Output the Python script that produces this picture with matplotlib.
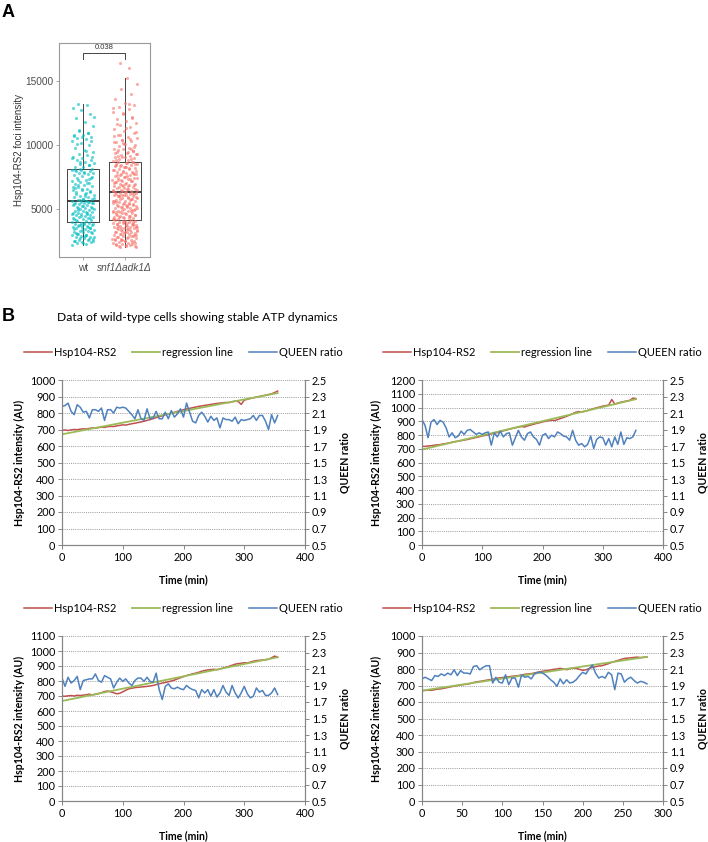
import numpy as np
import matplotlib
matplotlib.use("Agg")
import matplotlib.pyplot as plt

# ---------------- panel A: foci intensity per cell ----------------
groups = ["wt", "snf1Δadk1Δ"]
wt_foci = [2200, 2280, 2350, 2400, 2420, 2500, 2560, 2600, 2680, 2750, 2790, 2850,
           2900, 2960, 3000, 3050, 3120, 3180, 3200, 3260, 3300, 3380, 3420, 3480,
           3500, 3560, 3620, 3650, 3700, 3760, 3800, 3850, 3880, 3940, 3990,
           4050, 4080, 4150, 4200, 4230, 4300, 4350, 4380, 4450, 4500, 4540, 4600,
           4650, 4700, 4720, 4800, 4850, 4880, 4950, 5000, 5020, 5100, 5150, 5180,
           5250, 5300, 5330, 5400, 5450, 5480, 5500, 5540, 5570, 5600, 5620,
           5680, 5750, 5800, 5900, 5950, 6050, 6100, 6200, 6300, 6350, 6450, 6500,
           6600, 6700, 6800, 6850, 6950, 7050, 7100, 7200, 7300, 7400, 7450, 7550,
           7650, 7700, 7780, 7850, 7900, 7950, 8000, 8050, 8080, 6250, 6900,
           8150, 8250, 8300, 8450, 8500, 8600, 8700, 8800, 8850, 8950, 9050, 9200,
           9300, 9450, 9600, 9800, 10000, 10150, 10300, 10450, 10550, 10650, 10750,
           10800, 10950, 11200, 11500, 11800, 12100, 12400, 12700, 12900, 13100,
           13200, 9100,
           2330, 2470, 2620, 2720, 2830, 2980, 3080, 3230, 3350, 3450, 3600, 3720,
           3830, 3920, 4120, 4270, 4420, 4580, 4760, 4920, 5060, 5220, 5380, 5520,
           5720, 5850, 6000, 6150, 6400, 6550, 6750, 7000, 7250, 7500, 7820, 8020,
           8400, 8650, 9000, 9500, 10050, 10350, 10600, 10700, 10900, 11100, 2520,
           2880, 3150, 3530, 3780, 4330, 4620, 5050, 5450, 5820, 6650, 7350, 8150,
           12200]
mut_foci = [2000, 2040, 2110, 2150, 2230, 2260, 2320, 2380, 2400, 2470, 2510, 2560,
            2600, 2670, 2720, 2760, 2800, 2870, 2910, 2950, 3020, 3060, 3100, 3170,
            3200, 3240, 3310, 3330, 3400, 3460, 3500, 3540, 3590, 3620, 3680, 3720,
            3760, 3800, 3850, 3880, 3920, 3960, 4000, 4030, 4080, 4120, 4150, 3350,
            3560, 3900,
            4200, 4260, 4300, 4350, 4420, 4460, 4500, 4580, 4620, 4680, 4720, 4770,
            4820, 4880, 4930, 4980, 5040, 5080, 5130, 5200, 5240, 5300, 5350, 5420,
            5460, 5500, 5560, 5620, 5660, 5720, 5780, 5830, 5880, 5920, 5980, 6040,
            6080, 6130, 6180, 6230, 6270, 6300, 4550, 4900, 5150, 5600, 5850, 6020,
            6200, 6290,
            6330, 6400, 6450, 6520, 6580, 6630, 6700, 6760, 6800, 6870, 6920, 6980,
            7030, 7100, 7150, 7220, 7260, 7330, 7400, 7450, 7510, 7580, 7620, 7700,
            7750, 7800, 7870, 7920, 7980, 8030, 8100, 8150, 8220, 8280, 8330, 8400,
            8460, 8520, 8580, 8650, 8700, 6650, 7050, 7350, 7650, 7950, 8250, 8550,
            8680, 6900,
            8750, 8820, 8900, 8960, 9030, 9100, 9180, 9250, 9330, 9400, 9480, 9560,
            9650, 9720, 9800, 9900, 10000, 10100, 10200, 10300, 10420, 10550, 10650,
            10800, 10950, 11100, 11250, 11400, 11550, 11700, 11850, 12000, 12200,
            12400, 12600, 12800, 13000, 13150, 13300, 13600, 14000, 14400, 14800,
            15200, 9150, 9550, 10150, 10700, 16000, 16400,
            2080, 2180, 2290, 2420, 2540, 2630, 2780, 2830, 2990, 3130, 3220, 3380,
            3480, 3610, 3700, 3820, 3950, 4060, 4180, 4310, 4400, 4530, 4650, 4790,
            4860, 4960, 5060, 5180, 5270, 5380, 5480, 5590, 5700, 5800, 5950, 6060,
            6160, 6250, 6380, 6480, 6560, 6730, 6840, 6960, 7080, 7180, 7300, 7420,
            7540, 7680, 7820, 7900, 8060, 8180, 8360, 8480, 8620, 8800, 8880, 9080,
            9280, 9420, 9620, 9850, 10050, 10250, 10500, 10750, 11000, 11300, 11650,
            12100, 12500, 12900, 13200, 2130, 2340, 2490, 2690, 2880, 3040, 3280,
            3430, 3660, 3780, 4020, 4240, 4480, 4740, 5010, 5320, 5520, 5750, 6120,
            6440, 6820, 7250, 7760, 8320, 9350, 2220, 2580, 2930, 3180, 3520, 3840,
            4380, 4840, 5420, 6000, 6600, 7480, 8420, 9700, 10400]
box_lo = [2200, 2000]
box_q1 = [4000, 4150]
box_med = [5600, 6300]
box_q3 = [8100, 8700]
box_hi = [13200, 15200]
p_value = "0.038"

# ---------------- panel B: time courses of four wild-type cells ----------------
time_step = [5, 5, 5, 4]
hsp_1 = [695, 697, 694, 698, 700, 699, 702, 704, 703, 707,
         709, 708, 712, 714, 713, 717, 719, 718, 722, 725,
         728, 727, 731, 735, 738, 742, 746, 750, 755, 760,
         766, 772, 777, 783, 789, 794, 799, 804, 810, 815,
         820, 824, 828, 832, 836, 840, 843, 846, 849, 852,
         855, 858, 860, 862, 864, 863, 868, 872, 870, 852,
         878, 883, 888, 892, 896, 900, 904, 908, 912, 916,
         924, 933]
queen_1 = [2.18, 2.19, 2.22, 2.12, 2.08, 2.20, 2.17, 2.11, 2.12, 2.04,
           2.14, 2.14, 2.12, 2.16, 2.01, 2.14, 2.14, 2.10, 2.17, 2.16,
           2.17, 2.16, 2.12, 2.08, 2.03, 2.14, 2.03, 2.01, 2.15, 2.03,
           2.04, 2.12, 2.03, 2.03, 2.11, 2.03, 2.13, 2.05, 2.09, 2.15,
           2.05, 2.22, 2.11, 2.00, 1.98, 2.07, 2.11, 2.06, 1.99, 2.06,
           2.01, 2.04, 1.92, 2.04, 2.02, 2.02, 2.00, 2.05, 1.97, 2.02,
           2.01, 2.02, 2.03, 2.07, 2.01, 2.07, 2.07, 2.00, 1.90, 2.08,
           1.98, 2.07]
hsp_2 = [718, 717, 720, 722, 725, 728, 730, 735, 738, 742,
         748, 752, 755, 759, 763, 767, 772, 777, 782, 787,
         793, 797, 802, 808, 813, 818, 824, 830, 836, 842,
         848, 853, 857, 862, 858, 866, 872, 878, 884, 889,
         895, 900, 904, 908, 905, 912, 920, 928, 936, 945,
         955, 965, 970, 968, 972, 978, 985, 992, 998, 1004,
         1010, 1014, 1018, 1058, 1025, 1032, 1038, 1043, 1048, 1052,
         1068, 1065]
queen_2 = [2.02, 1.95, 1.80, 1.99, 2.02, 1.96, 2.01, 1.99, 1.92, 1.81,
           1.86, 1.80, 1.82, 1.88, 1.84, 1.89, 1.90, 1.87, 1.84, 1.86,
           1.84, 1.86, 1.87, 1.71, 1.86, 1.81, 1.88, 1.81, 1.85, 1.86,
           1.71, 1.80, 1.89, 1.81, 1.77, 1.85, 1.87, 1.81, 1.78, 1.71,
           1.83, 1.85, 1.79, 1.83, 1.81, 1.87, 1.85, 1.82, 1.81, 1.77,
           1.89, 1.77, 1.71, 1.73, 1.69, 1.72, 1.82, 1.67, 1.78, 1.81,
           1.80, 1.71, 1.79, 1.69, 1.81, 1.72, 1.87, 1.72, 1.80, 1.79,
           1.81, 1.89]
hsp_3 = [700, 698, 701, 703, 700, 705, 703, 706, 708, 712,
         707, 711, 716, 722, 730, 733, 728, 722, 715, 718,
         728, 738, 748, 752, 756, 758, 760, 762, 764, 767,
         770, 776, 782, 786, 790, 795, 800, 806, 814, 822,
         829, 836, 842, 848, 852, 858, 865, 870, 874, 876,
         878, 875, 880, 886, 892, 898, 905, 912, 916, 918,
         922, 920, 926, 932, 936, 938, 940, 942, 945, 955,
         966, 958]
queen_3 = [1.99, 1.89, 2.00, 1.93, 1.96, 2.01, 1.85, 1.96, 1.97, 1.98,
           1.98, 2.04, 1.96, 1.94, 2.02, 2.00, 1.98, 1.87, 1.94, 1.99,
           1.95, 1.98, 1.93, 1.90, 1.96, 1.99, 1.99, 1.95, 2.00, 1.95,
           1.94, 2.05, 1.85, 1.73, 1.89, 1.92, 1.87, 1.86, 1.88, 1.86,
           1.85, 1.90, 1.87, 1.85, 1.84, 1.75, 1.85, 1.81, 1.85, 1.77,
           1.85, 1.76, 1.81, 1.90, 1.82, 1.78, 1.90, 1.81, 1.75, 1.81,
           1.89, 1.80, 1.75, 1.77, 1.87, 1.82, 1.84, 1.78, 1.78, 1.81,
           1.87, 1.79]
hsp_4 = [668, 670, 672, 671, 675, 678, 680, 684, 688, 692,
         696, 700, 703, 706, 708, 712, 718, 722, 725, 728,
         732, 735, 738, 742, 746, 748, 751, 753, 756, 758,
         760, 764, 768, 770, 772, 776, 780, 784, 788, 790,
         794, 798, 800, 804, 800, 796, 802, 806, 804, 798,
         792, 795, 803, 810, 814, 818, 820, 826, 832, 840,
         846, 852, 858, 864, 866, 868, 870, 872, 869, 871,
         872]
queen_4 = [1.98, 2.00, 1.98, 1.96, 2.02, 2.01, 2.04, 2.02, 2.05, 2.03,
           2.09, 2.02, 2.08, 2.05, 2.05, 2.04, 2.13, 2.14, 2.09, 2.12,
           2.14, 2.14, 1.93, 2.00, 1.94, 1.93, 2.03, 1.91, 1.99, 1.99,
           1.88, 2.03, 2.00, 2.01, 1.98, 2.04, 2.06, 2.06, 2.04, 2.01,
           1.97, 1.94, 1.89, 1.98, 1.92, 1.97, 1.93, 1.94, 1.97, 2.02,
           2.06, 2.04, 2.10, 2.15, 2.05, 1.99, 2.01, 1.99, 2.06, 2.03,
           1.85, 2.05, 2.04, 1.94, 1.98, 2.00, 1.96, 1.93, 1.95, 1.94,
           1.92]
x_max = [400, 400, 400, 300]
x_tick_step = [100, 100, 100, 50]
y_max = [1000, 1200, 1100, 1000]
series_names = ["Hsp104-RS2", "regression line", "QUEEN ratio"]

RED = "#C0504D"
GREEN = "#9BBB59"
BLUE = "#4F81BD"
TEAL = "#00BFC4"
SALMON = "#F8766D"
AXC = "#868686"

W, H = 708, 842
fig = plt.figure(figsize=(W / 100, H / 100), dpi=100)


def px_rect(x0, y0, x1, y1):
    return [x0 / W, 1 - y1 / H, (x1 - x0) / W, (y1 - y0) / H]


# ---------------- panel A ----------------
axa = fig.add_axes(px_rect(59, 43, 150, 257))
stats = []
for i in range(2):
    stats.append(dict(whislo=box_lo[i], q1=box_q1[i], med=box_med[i],
                      q3=box_q3[i], whishi=box_hi[i]))
axa.bxp(stats, positions=[1, 2], widths=0.76, showfliers=False, showcaps=False,
        boxprops=dict(color="#444444", lw=0.7),
        whiskerprops=dict(color="#444444", lw=0.7),
        medianprops=dict(color="#333333", lw=1.3))
for i, (vals, col, spread) in enumerate([(wt_foci, TEAL, 0.27), (mut_foci, SALMON, 0.3)]):
    n = len(vals)
    jitter = ((np.arange(n) * 0.6180339887 + 0.31 * i) % 1.0 - 0.5) * 2 * spread
    axa.scatter(1 + i + jitter, vals, s=5, color=col, alpha=0.6, lw=0, zorder=3)

axa.plot([1, 1, 2, 2], [16750, 17190, 17190, 16750], color="#444444", lw=0.7)
axa.text(1.5, 17330, p_value, ha="center", va="bottom", fontsize=5.5,
         color="#333333", family="Liberation Sans")
axa.set_xlim(0.43, 2.6)
axa.set_ylim(1250, 17970)
axa.set_yticks([5000, 10000, 15000])
axa.set_xticks([1, 2])
axa.set_xticklabels(groups)
axa.get_xticklabels()[1].set_style("italic")
for sp in axa.spines.values():
    sp.set_color("#999999")
    sp.set_linewidth(0.8)
axa.tick_params(length=2.5, width=0.6, color="#999999", labelsize=7.3,
                labelcolor="#4d4d4d", pad=1.5)
for lab in axa.get_xticklabels() + axa.get_yticklabels():
    lab.set_family("Liberation Sans")
axa.set_ylabel("Hsp104-RS2 foci intensity", fontsize=7, family="Liberation Sans",
               color="#333333", labelpad=1)

fig.text(2 / W, 1 - 4 / H, "A", fontsize=13, fontweight="bold", va="top",
         family="Liberation Sans")
fig.text(2 / W, 1 - 308 / H, "B", fontsize=13, fontweight="bold", va="top",
         family="Liberation Sans")
fig.text(57 / W, 1 - 318 / H, "Data of wild-type cells showing stable ATP dynamics",
         fontsize=8.7, va="center", family="Lato")

# ---------------- panel B ----------------
rects = [(62, 380, 305, 545), (422, 380, 663, 545),
         (62, 636, 305, 801), (422, 636, 663, 801)]
hsp_all = [hsp_1, hsp_2, hsp_3, hsp_4]
queen_all = [queen_1, queen_2, queen_3, queen_4]
FONT = "Lato"

for k in range(4):
    x0, y0, x1, y1 = rects[k]
    ax = fig.add_axes(px_rect(x0, y0, x1, y1))
    t = np.arange(len(hsp_all[k])) * time_step[k]
    tq = np.arange(len(queen_all[k])) * time_step[k]
    slope, icpt = np.polyfit(t, hsp_all[k], 1)
    h1, = ax.plot(t, hsp_all[k], color=RED, lw=1.1)
    h2, = ax.plot(t, slope * t + icpt, color=GREEN, lw=1.3)
    ax.set_xlim(0, x_max[k])
    ax.set_ylim(0, y_max[k])
    ax.set_xticks(np.arange(0, x_max[k] + 1, x_tick_step[k]))
    ax.set_yticks(np.arange(0, y_max[k] + 1, 100))
    ax.yaxis.grid(True, color="#9a9a9a", ls=(0, (1, 1.2)), lw=0.7)
    ax.set_axisbelow(True)

    ax2 = ax.twinx()
    h3, = ax2.plot(tq, queen_all[k], color=BLUE, lw=1.1)
    ax2.set_ylim(0.5, 2.5)
    ax2.set_yticks(np.arange(0.5, 2.51, 0.2))
    ax2.set_yticklabels(["%.1f" % v for v in np.arange(0.5, 2.51, 0.2)])

    for a in (ax, ax2):
        a.spines["top"].set_visible(False)
        for s in ("left", "right", "bottom"):
            a.spines[s].set_color(AXC)
            a.spines[s].set_linewidth(0.8)
        a.tick_params(direction="out", length=3, width=0.7, color=AXC,
                      labelsize=7.8, pad=2)
        for lab in a.get_xticklabels() + a.get_yticklabels():
            lab.set_family(FONT)
    w = x1 - x0
    hgt = y1 - y0
    lx = 25 if k % 2 == 0 else 382
    rx = 340 if k % 2 == 0 else 697
    ax.set_ylabel("Hsp104-RS2 intensity (AU)", fontsize=7.6, fontweight="bold",
                  family=FONT)
    ax.yaxis.set_label_coords(-(x0 - lx) / w, 0.5)
    ax2.set_ylabel("QUEEN ratio", fontsize=7.6, fontweight="bold", family=FONT,
                   rotation=90)
    ax2.yaxis.set_label_coords(1 + (rx - x1) / w, 0.5)
    ax.set_xlabel("Time (min)", fontsize=7.6, fontweight="bold", family=FONT)
    ax.xaxis.set_label_coords(0.5, -29 / hgt)
    ax2.legend([h1, h2, h3], series_names, loc="center", ncol=3, frameon=False,
               bbox_to_anchor=(0.5, 1 + 28 / hgt), handlelength=2.5,
               handletextpad=0.2, columnspacing=1.4, prop=dict(family=FONT, size=8))

fig.savefig("out.png", dpi=100)
